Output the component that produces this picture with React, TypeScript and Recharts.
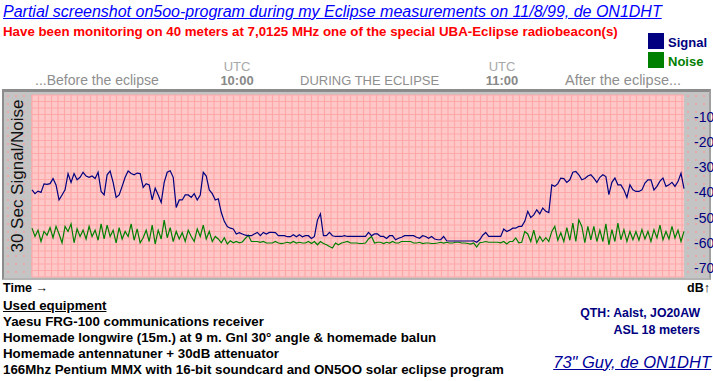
import React from "react";
import { LineChart, Line, XAxis, YAxis, CartesianGrid } from "recharts";

// 30 sec averaged readings, one sample per step along the time axis (dB)
const signalDb = [
  -39, -40.5, -39.5, -40, -36.6, -36.8, -36.5, -34.5, -37, -43, -41, -39, -32.5, -36, -32.5, -35, -34, -32, -33.5, -34,
  -33.5, -34.5, -32, -39.6, -41, -33, -31.5, -36, -42, -41, -37.6, -34, -31.5, -32.5, -33, -32.3, -32.5,
  -38, -36.5, -37, -43, -38.3, -41, -44, -36, -32, -31.4, -34, -46, -43, -43, -41, -41, -42, -40.5, -43, -41,
  -32, -33.5, -39, -40.5, -43, -42.5, -48, -51.5, -53.6, -54.2, -54.5, -56.5, -56, -56.5, -57, -57.2,
  -57.2, -56.5, -55.9, -57.2, -55.9, -56.5, -55.9, -55.9, -56, -57.2, -57.2, -57.2, -57.6, -57.6, -56.8, -57.6,
  -56.8, -57.6, -57.2, -57.2, -58.3, -57.5, -51, -48.5, -57.2, -57.2, -55.9, -57.2, -57.5, -57.5, -57.5, -57.2,
  -57.5, -57.5, -57.5, -57.5, -57.5, -57.5, -57.5, -55.9, -57.2, -56.5, -56.5, -57.5, -57.5, -58.3, -57.2, -57.2,
  -58.8, -58.2, -57.8, -57.2, -57.2, -57.2, -57.2, -57.8, -58.2, -57.2, -57.5, -58.2, -57.5, -58.5, -58.8, -58.8,
  -57.5, -59.2, -59.3, -59.3, -59.3, -59.3, -59.3, -59.3, -59.3, -59.3,
  -59.2, -59.8, -58.8, -57, -55.9, -57.5, -57.5, -57.5, -57.5, -57.5, -54.5, -55.5, -55, -54.2, -54.2, -53.5,
  -53.5, -51.5, -47.5, -50, -48.9, -46.9, -48.5, -46.2, -47.5, -48, -37, -37.6, -36.5, -34.3, -34.5, -36, -35,
  -32, -31.7, -33, -35, -34.5, -33.5, -33, -34.3, -36, -34, -33, -33.7, -40.9, -36, -34.3, -37, -37, -39, -42,
  -37, -39, -39.6, -39.6, -39, -36.3, -35, -35, -39, -37.6, -35.5, -34.3, -37.6, -37, -36, -37.6, -35.7, -32.4, -38.5,
];

const noiseDb = [
  -54.2, -57.5, -55, -59.5, -55.5, -57, -54, -58, -53.5, -56.5, -60, -53.5, -55.5, -52.5, -60, -54.5, -57.5, -55,
  -58.5, -53.5, -57.5, -55, -59, -52.5, -58.5, -53, -57.5, -55, -60, -54, -58.5, -55.5, -57.5, -52.5, -59, -54.5, -60,
  -58, -55, -59.5, -53, -60.5, -55, -58.5, -51, -58, -54, -59.5, -55.5, -58.5, -56, -59.5, -55, -57.5, -59.5, -54.5,
  -57.5, -53, -58.5, -55.5, -59.5, -57.5, -58.5, -60, -58, -60.5, -59.2, -60, -59.5, -60, -59.7, -58.3, -57,
  -59.5, -59.5, -59.5, -59.8, -59.5, -60.1, -60.1, -60.1, -59.5, -60.1, -60.3, -60.1, -59.8, -60.1, -59.5, -60.1,
  -59.8, -60.1, -60.1, -59.5, -60.3, -59.5, -60.8, -59.5, -60.3, -60.8, -61.5, -62.1, -60.1, -60.8, -60.1, -59.8,
  -59.5, -60.1, -60.1, -60.1, -60.3, -60.3, -60.1, -58.5, -57.5, -60.1, -59.8, -59.8, -60.3, -59.8, -60.1, -59.5,
  -60.1, -60.1, -59.5, -59.5, -59.5, -59.5, -60.1, -60.1, -59.8, -60.3, -60.1, -60.1, -60.3, -60.3, -60.1, -59.8,
  -60.1, -59.8, -60.1, -60.1, -59.8, -59.8, -60.1, -60.1, -60.3, -60.5,
  -60.1, -61.7, -60, -59.8, -59.5, -59.8, -59.8, -59.8, -59.8, -60, -59.5, -60.5, -59.5, -59.5, -58.1, -60, -59.8,
  -55.5, -56.5, -59.5, -55, -60, -57.5, -59.5, -58, -59.5, -55.5, -53.5, -59, -56, -59.5, -54, -59, -52.2, -59.5,
  -50.9, -53.5, -60, -53.5, -58.8, -53.5, -59.5, -55, -59.5, -52.5, -60.8, -54.8, -59.5, -52.2, -58.8, -54.8, -59.5,
  -55.5, -58.8, -55.5, -59, -54.8, -58.5, -55.5, -59.5, -54.8, -58.1, -53, -58.8, -55.5, -58.5, -53.5, -58.1, -55,
  -59.5, -55.5,
];

const dbTicks = [-10, -20, -30, -40, -50, -60, -70];

const equipment = [
  "Yaesu FRG-100 communications receiver",
  "Homemade longwire (15m.) at 9 m. Gnl 30° angle & homemade balun",
  "Homemade antennatuner + 30dB attenuator",
  "166Mhz Pentium MMX with 16-bit soundcard and ON5OO solar eclipse program",
];

const rows = signalDb.map((s, i) => ({ t: i, signal: s, noise: noiseDb[i] }));

const FONT = "'Liberation Sans', Arial, sans-serif";

const Txt = ({ x, right, cx, y, size = 13, color = "#000", bold, italic, underline, spacing, children }: any) => {
  const h = Math.round(size) + 4;
  const style: any = {
    position: "absolute",
    top: y - h / 2,
    height: h,
    lineHeight: `${h}px`,
    fontSize: size,
    fontFamily: FONT,
    color,
    fontWeight: bold ? "bold" : "normal",
    fontStyle: italic ? "italic" : "normal",
    textDecoration: underline ? "underline" : "none",
    letterSpacing: spacing || 0,
    whiteSpace: "nowrap",
  };
  if (cx !== undefined) {
    style.left = cx;
    style.transform = "translateX(-50%)";
  } else if (right !== undefined) {
    style.right = 713 - right;
  } else {
    style.left = x;
  }
  return <div style={style}>{children}</div>;
};

const gridStep = 6.5;
const vLines = ({ offset }: any) => {
  const out: number[] = [];
  for (let x = offset.left; x <= offset.left + offset.width; x += gridStep) out.push(x);
  return out;
};
const hLines = ({ offset }: any) => {
  const out: number[] = [];
  for (let y = offset.top; y <= offset.top + offset.height; y += gridStep) out.push(y);
  return out;
};

export default function App() {
  const gray = "#8e8e8e";
  return (
    <div style={{ position: "absolute", left: 0, top: 0, width: 713, height: 381, background: "#fff", overflow: "hidden" }}>
      <Txt x={3} y={12} size={16} color="#0000ff" italic underline>
        Partial screenshot on5oo-program during my Eclipse measurements on 11/8/99, de ON1DHT
      </Txt>
      <Txt x={3} y={31} size={13.3} color="#ff0000" bold>
        Have been monitoring on 40 meters at 7,0125 MHz one of the special UBA-Eclipse radiobeacon(s)
      </Txt>

      <div style={{ position: "absolute", left: 648, top: 33, width: 16, height: 16, background: "#000080" }} />
      <Txt x={668} y={42} size={13} color="#000080" bold>Signal</Txt>
      <div style={{ position: "absolute", left: 648, top: 52, width: 16, height: 16, background: "#008000" }} />
      <Txt x={668} y={61} size={13} color="#008000" bold>Noise</Txt>

      <Txt cx={237} y={66} size={13} color="#a8a8a8">UTC</Txt>
      <Txt cx={237} y={80} size={13} color="#888" bold>10:00</Txt>
      <Txt cx={502} y={66} size={13} color="#a8a8a8">UTC</Txt>
      <Txt cx={502} y={80} size={13} color="#888" bold>11:00</Txt>
      <Txt x={35} y={80} size={14} color={gray}>...Before the eclipse</Txt>
      <Txt x={300} y={80} size={13} color={gray}>DURING THE ECLIPSE</Txt>
      <Txt x={565} y={80} size={14.5} color={gray}>After the eclipse...</Txt>

      <div
        style={{
          position: "absolute",
          left: 2,
          top: 89,
          width: 705,
          height: 186,
          background: "#c4c4c4",
          backgroundImage: "radial-gradient(#e6aaaa 0.8px, transparent 1.1px)",
          backgroundSize: "8px 8px",
          borderTop: "3px solid #8c8c8c",
          borderLeft: "2px solid #8c8c8c",
          borderRight: "2px solid #a0a0a0",
          borderBottom: "2px solid #b4b4b4",
        }}
      />
      <div
        style={{
          position: "absolute",
          left: 18,
          top: 176,
          transform: "translate(-50%, -50%) rotate(-90deg)",
          fontFamily: FONT,
          fontSize: 17,
          whiteSpace: "nowrap",
          color: "#111",
        }}
      >
        30 Sec Signal/Noise
      </div>

      <div style={{ position: "absolute", left: 0, top: 0 }}>
        <LineChart width={713} height={381} data={rows} margin={{ top: 95, right: 0, bottom: 104, left: 32 }}>
          <CartesianGrid
            fill="#ffc8c8"
            stroke="#ffa8a8"
            strokeWidth={1.2}
            verticalCoordinatesGenerator={vLines}
            horizontalCoordinatesGenerator={hLines}
          />
          <XAxis dataKey="t" type="number" domain={[0, rows.length - 1]} hide />
          <YAxis
            orientation="right"
            width={29}
            type="number"
            domain={[-73.6, -1.3]}
            ticks={dbTicks}
            allowDataOverflow
            tickLine={false}
            axisLine={false}
            tickMargin={4}
            tick={{ fill: "#000080", fontSize: 14, fontFamily: FONT }}
          />
          <Line dataKey="noise" type="linear" stroke="#008000" strokeWidth={1.2} dot={false} isAnimationActive={false} />
          <Line dataKey="signal" type="linear" stroke="#000080" strokeWidth={1.2} dot={false} isAnimationActive={false} />
        </LineChart>
      </div>

      <Txt x={3} y={288} size={12.5} bold>Time →</Txt>
      <Txt right={710} y={288} size={12.5} bold>dB↑</Txt>

      <Txt x={3} y={305} size={13.3} bold underline>Used equipment</Txt>
      {equipment.map((line, i) => (
        <Txt key={line} x={3} y={321 + i * 16} size={13.3} bold>
          {line}
        </Txt>
      ))}

      <Txt right={700} y={313} size={12.3} color="#000080" bold>QTH: Aalst, JO20AW</Txt>
      <Txt right={700} y={330} size={12.5} color="#000080" bold>ASL 18 meters</Txt>
      <Txt right={711} y={362} size={16.5} color="#000099" italic underline>73" Guy, de ON1DHT</Txt>
    </div>
  );
}
